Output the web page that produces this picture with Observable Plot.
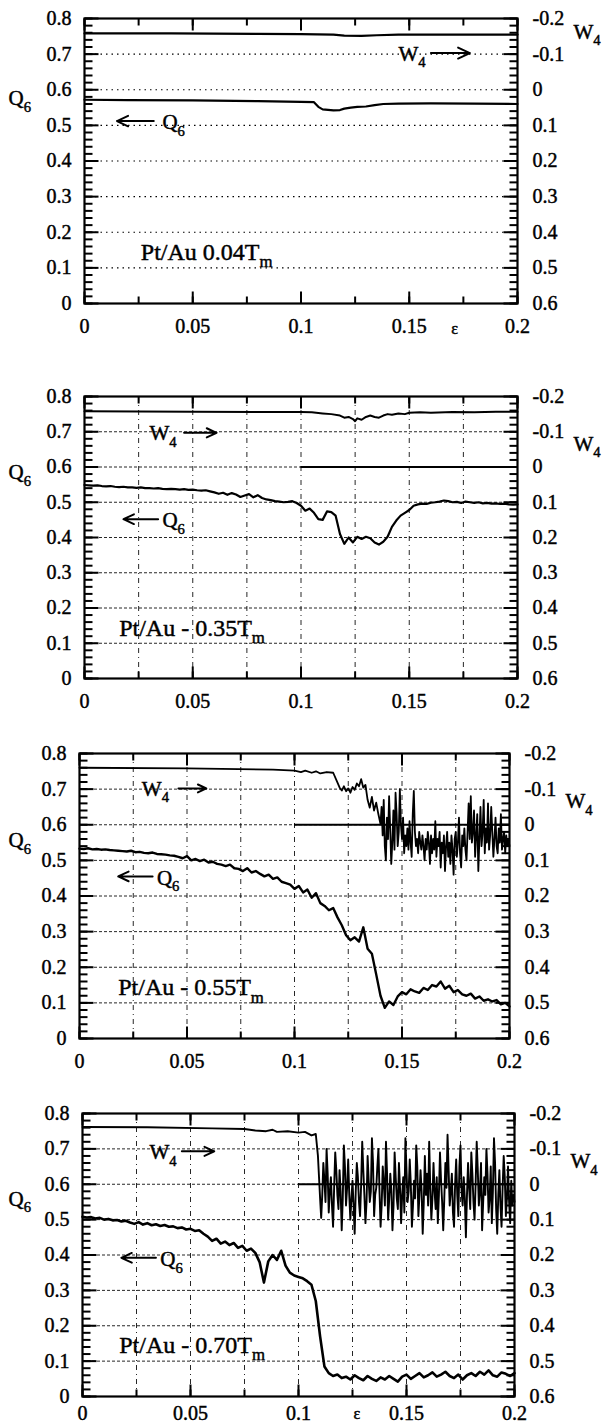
<!DOCTYPE html>
<html><head><meta charset="utf-8">
<script src="https://cdn.jsdelivr.net/npm/d3@7"></script>
<script src="https://cdn.jsdelivr.net/npm/@observablehq/plot@0.6"></script>
<style>
body{margin:0;background:#fff}
#root{position:relative;width:607px;height:1426px;overflow:hidden;background:#fff}
#root svg{position:absolute;left:0}
#root svg text{font-family:"Liberation Serif","DejaVu Serif",serif}
</style></head><body><div id="root"></div>
<script>
// ---------- tick labels ----------
const xTickVals = [0, 0.05, 0.1, 0.15, 0.2];
const xTickLabels = ["0", "0.05", "0.1", "0.15", "0.2"];
const q6TickVals = [0, 0.1, 0.2, 0.3, 0.4, 0.5, 0.6, 0.7, 0.8];
const q6TickLabels = ["0", "0.1", "0.2", "0.3", "0.4", "0.5", "0.6", "0.7", "0.8"];
const w4TickLabels = ["0.6", "0.5", "0.4", "0.3", "0.2", "0.1", "0", "-0.1", "-0.2"]; // same positions as q6TickVals
const xGridVals = [0.025, 0.05, 0.075, 0.1, 0.125, 0.15, 0.175];
const qGridVals = [0.1, 0.2, 0.3, 0.4, 0.5, 0.6, 0.7];
const panelLabels = ["Pt/Au 0.04T_m", "Pt/Au - 0.35T_m", "Pt/Au - 0.55T_m", "Pt/Au - 0.70T_m"];

// ---------- data (eps, value) ----------
// Panel 1 (0.04 Tm)
const q6_p1 = [[0,0.572],[0.02,0.571],[0.05,0.570],[0.08,0.568],[0.1,0.566],[0.106,0.565],[0.108,0.552],[0.11,0.545],[0.115,0.542],[0.118,0.543],[0.12,0.547],[0.123,0.550],[0.126,0.552],[0.13,0.553],[0.134,0.557],[0.138,0.560],[0.145,0.561],[0.16,0.562],[0.18,0.561],[0.2,0.560]];
const w4_p1 = [[0,-0.158],[0.04,-0.158],[0.08,-0.157],[0.1,-0.156],[0.115,-0.155],[0.12,-0.152],[0.128,-0.151],[0.135,-0.153],[0.145,-0.155],[0.17,-0.155],[0.2,-0.155]];

// Panel 2 (0.35 Tm) — Q6 sampled every 0.002 from 0
const q6_p2 = [0.549,0.548,0.547,0.548,0.546,0.545,0.546,0.544,0.543,0.544,0.542,
0.542,0.541,0.542,0.540,0.540,0.539,0.540,0.538,0.537,0.538,
0.537,0.536,0.537,0.535,0.536,0.534,0.533,0.534,0.531,0.528,
0.524,0.527,0.521,0.526,0.522,0.515,0.519,0.523,0.514,0.520,
0.512,0.508,0.506,0.503,0.502,0.500,0.501,0.503,0.498,0.490,
0.476,0.482,0.470,0.452,0.450,0.474,0.472,0.462,0.410,0.382,
0.400,0.386,0.402,0.396,0.402,0.398,0.386,0.380,0.388,0.402,
0.430,0.448,0.462,0.470,0.478,0.490,0.494,0.496,0.495,0.499,
0.500,0.502,0.505,0.503,0.500,0.501,0.498,0.502,0.500,0.498,
0.500,0.497,0.498,0.496,0.497,0.495,0.496,0.494,0.493,0.494];
const w4_p2 = [[0,-0.158],[0.05,-0.157],[0.09,-0.156],[0.1,-0.156],[0.105,-0.155],[0.11,-0.152],[0.114,-0.150],[0.118,-0.146],[0.12,-0.140],[0.122,-0.142],[0.124,-0.136],[0.125,-0.130],[0.126,-0.138],[0.128,-0.134],[0.13,-0.142],[0.132,-0.146],[0.134,-0.142],[0.136,-0.140],[0.138,-0.146],[0.14,-0.150],[0.142,-0.148],[0.145,-0.152],[0.148,-0.150],[0.15,-0.154],[0.155,-0.155],[0.16,-0.154],[0.17,-0.156],[0.18,-0.155],[0.19,-0.157],[0.2,-0.157]];

// Panel 3 (0.55 Tm)
const q6_p3 = [0.533,0.532,0.534,0.531,0.532,0.530,0.531,0.529,0.528,0.527,0.526,
0.525,0.527,0.523,0.524,0.521,0.520,0.522,0.518,0.517,0.516,
0.514,0.513,0.510,0.506,0.512,0.500,0.504,0.498,0.502,0.494,
0.496,0.490,0.488,0.484,0.488,0.478,0.476,0.470,0.478,0.466,
0.470,0.462,0.455,0.460,0.448,0.452,0.440,0.436,0.432,0.420,
0.428,0.410,0.418,0.395,0.408,0.380,0.372,0.360,0.366,0.340,
0.318,0.290,0.276,0.284,0.272,0.312,0.252,0.238,0.180,0.120,
0.086,0.104,0.094,0.118,0.130,0.124,0.138,0.132,0.128,0.142,
0.136,0.150,0.146,0.160,0.140,0.148,0.130,0.136,0.124,0.120,
0.126,0.112,0.118,0.106,0.110,0.104,0.108,0.096,0.100,0.090];
const w4_p3_smooth = [[0,-0.160],[0.05,-0.158],[0.09,-0.155],[0.1,-0.152],[0.103,-0.148],[0.105,-0.152],[0.108,-0.146],[0.11,-0.150],[0.112,-0.144],[0.115,-0.148],[0.118,-0.146]];
// W4 sampled every 0.001 from 0.120 to 0.139
const w4_p3_step = [-0.118,-0.104,-0.096,-0.108,-0.094,-0.102,-0.090,-0.106,-0.098,-0.116,
-0.108,-0.128,-0.104,-0.112,-0.070,-0.048,-0.078,-0.040,-0.062,-0.030];
// W4 sampled every 0.0005 from 0.140 to 0.200
const w4_p3_noisy = [-0.002,-0.050,0.030,-0.070,0.060,0.100,-0.020,0.040,-0.080,0.010,
0.110,0.050,-0.040,0.070,-0.090,-0.030,0.060,0.020,-0.100,0.000,
0.040,-0.020,0.080,0.030,0.060,0.010,0.070,-0.010,0.050,0.090,
-0.030,-0.095,0.020,0.060,0.040,0.080,0.020,0.050,0.070,0.030,
0.060,0.100,0.040,0.070,0.020,0.050,0.110,0.030,0.080,0.040,
0.070,-0.010,0.090,0.040,0.060,0.020,0.120,0.050,0.080,0.030,
0.130,0.060,0.020,0.090,0.050,0.110,0.030,0.070,0.140,0.040,
0.020,0.090,0.050,-0.020,0.080,0.120,0.030,0.060,0.010,0.070,
0.100,0.020,-0.060,0.040,-0.080,0.050,0.020,-0.040,0.090,0.030,
-0.030,0.130,0.040,-0.050,0.060,0.020,-0.070,0.080,0.010,0.050,
-0.060,0.070,0.030,-0.050,0.020,0.090,0.040,-0.020,0.060,0.080,
0.010,0.050,-0.030,0.070,0.040,0.020,0.080,0.030,0.060,0.040,
0.060];

// Panel 4 (0.70 Tm)
const q6_p4 = [0.508,0.506,0.507,0.503,0.505,0.500,0.502,0.498,0.499,0.495,0.497,
0.492,0.488,0.493,0.486,0.490,0.484,0.487,0.482,0.485,0.480,
0.481,0.476,0.478,0.472,0.474,0.468,0.470,0.460,0.452,0.440,
0.446,0.432,0.438,0.428,0.434,0.420,0.426,0.412,0.418,0.406,
0.380,0.322,0.382,0.400,0.386,0.412,0.370,0.350,0.342,0.338,
0.334,0.326,0.316,0.270,0.170,0.085,0.066,0.058,0.062,0.052,
0.056,0.048,0.060,0.052,0.046,0.058,0.050,0.044,0.054,0.048,
0.058,0.050,0.042,0.056,0.062,0.050,0.058,0.066,0.054,0.060,
0.068,0.056,0.062,0.070,0.058,0.052,0.062,0.048,0.060,0.066,
0.058,0.070,0.062,0.074,0.060,0.056,0.068,0.064,0.058,0.066];
const w4_p4_smooth = [[0,-0.162],[0.03,-0.161],[0.06,-0.158],[0.075,-0.156],[0.08,-0.152],[0.085,-0.150],[0.088,-0.154],[0.09,-0.148],[0.095,-0.150],[0.1,-0.146],[0.103,-0.148],[0.106,-0.138],[0.108,-0.142]];
// W4 sampled every 0.0005 from 0.109 to 0.200
const w4_p4_noisy = [-0.080,-0.020,0.040,0.095,0.030,-0.060,-0.010,0.050,-0.100,-0.030,
0.080,0.020,-0.020,0.060,0.120,0.010,-0.090,-0.040,0.030,0.070,
-0.040,0.020,0.130,0.040,-0.110,-0.050,0.060,0.010,-0.070,0.030,
0.100,0.040,-0.010,0.060,0.140,0.020,-0.060,-0.020,0.050,0.090,
0.000,-0.120,-0.040,0.030,0.110,0.050,-0.080,-0.010,0.050,0.020,
-0.130,-0.060,0.090,0.030,0.010,-0.050,-0.100,0.020,0.120,0.060,
-0.050,0.000,0.060,-0.120,-0.030,0.100,0.040,-0.030,0.020,0.130,
0.060,-0.090,-0.020,0.040,0.070,-0.060,0.010,0.110,0.030,-0.020,
0.080,-0.130,-0.040,0.050,0.020,-0.070,0.000,0.120,0.060,-0.010,
0.040,-0.110,-0.050,0.090,0.030,-0.040,0.020,0.140,0.050,-0.080,
0.030,-0.030,0.060,-0.120,0.010,0.100,0.040,-0.060,0.020,0.070,
-0.020,0.110,0.030,-0.090,-0.010,0.050,0.130,0.040,-0.060,0.010,
-0.140,-0.040,0.060,0.020,-0.030,0.080,0.120,0.000,-0.070,0.030,
0.090,-0.050,-0.110,0.020,0.060,-0.020,0.040,0.150,0.030,-0.060,
0.010,0.070,-0.090,-0.030,0.050,0.100,0.000,-0.120,-0.040,0.060,
0.020,-0.060,0.130,0.050,-0.020,0.030,-0.100,-0.030,0.080,0.040,
-0.050,0.110,0.020,-0.130,-0.060,0.070,0.140,0.030,-0.040,0.060,
0.120,0.010,-0.080,-0.020,0.090,0.040,-0.050,0.050,0.110,-0.010,
0.060,0.030,0.050];

// ---------- helpers ----------
const fromPairs = (a) => a.map(([x, v]) => ({x, v}));
const fromGrid = (vals, start, step) => vals.map((v, i) => ({x: +(start + i * step).toFixed(5), v}));
const wToQ = (w) => 0.6 - w;   // right axis W4 (-0.2..0.6) shares the frame with Q6 (0.8..0)

const panels = [
  {q6: fromPairs(q6_p1), w4: fromPairs(w4_p1), svgTop: 0, svgH: 360, L: 84, R: 517, T: 18, B: 303, xPad: 15,
   zero: false, grid: "sparse", q6Lab: 0.575, w4Lab: 0.762, eps: 0.171, epsDy: 30,
   wText: [0.145, 0.70], wArrow: [0.160, 0.178, 0.703], qArrow: [0.032, 0.015, 0.512], qText: [0.036, 0.508], lab: [0.026, 0.145], wLineW: 2.2, qLineW: 2.2},
  {q6: fromGrid(q6_p2, 0, 0.002), w4: fromPairs(w4_p2), svgTop: 360, svgH: 360, L: 84, R: 517, T: 396, B: 678, xPad: 15,
   zero: true, grid: "dense", q6Lab: 0.585, w4Lab: 0.665, eps: null,
   wText: [0.03, 0.695], wArrow: [0.046, 0.061, 0.697], qArrow: [0.034, 0.018, 0.452], qText: [0.036, 0.448], lab: [0.016, 0.143], wLineW: 2, qLineW: 2.2},
  {q6: fromGrid(q6_p3, 0, 0.002), w4: fromPairs(w4_p3_smooth).concat(fromGrid(w4_p3_step, 0.12, 0.001), fromGrid(w4_p3_noisy, 0.14, 0.0005)), svgTop: 720, svgH: 360, L: 79, R: 509, T: 753, B: 1038, xPad: 15,
   zero: true, grid: "dense", q6Lab: 0.556, w4Lab: 0.665, eps: null,
   wText: [0.029, 0.70], wArrow: [0.046, 0.059, 0.702], qArrow: [0.034, 0.018, 0.455], qText: [0.036, 0.451], lab: [0.018, 0.143], wLineW: 1.8, qLineW: 2.4},
  {q6: fromGrid(q6_p4, 0, 0.002), w4: fromPairs(w4_p4_smooth).concat(fromGrid(w4_p4_noisy, 0.109, 0.0005)), svgTop: 1080, svgH: 346, L: 82, R: 514, T: 1113, B: 1396, xPad: 9,
   zero: true, grid: "dense", q6Lab: 0.558, w4Lab: 0.665, eps: 0.127, epsDy: 22,
   wText: [0.031, 0.69], wArrow: [0.046, 0.061, 0.693], qArrow: [0.034, 0.018, 0.392], qText: [0.036, 0.388], lab: [0.017, 0.145], wLineW: 1.9, qLineW: 2.6}
];

const root = document.getElementById("root");
const xMinor = d3.range(0, 0.2001, 0.025);
const qMinor = d3.range(0, 0.8001, 0.02);

panels.forEach((p, i) => {
  const pxX = (p.R - p.L) / 0.2, pxY = (p.B - p.T) / 0.8;
  const hx = (n) => n / pxX, hy = (n) => n / pxY; // pixel lengths in data units for inward ticks
  const gridStyle = p.grid === "sparse"
    ? {stroke: "#000", strokeWidth: 1.1, strokeDasharray: "1.5,4"}
    : {stroke: "#000", strokeWidth: 1, strokeDasharray: "3,2", strokeOpacity: 0.85};
  // inward tick segments as plain records (start/end in data units)
  const yTicks = [];
  qMinor.forEach((v) => { yTicks.push({a: 0, b: hx(8), v}); yTicks.push({a: 0.2 - hx(8), b: 0.2, v}); });
  q6TickVals.forEach((v) => { yTicks.push({a: 0, b: hx(14), v}); yTicks.push({a: 0.2 - hx(14), b: 0.2, v}); });
  const xTicks = [];
  xMinor.forEach((v) => { xTicks.push({a: 0, b: hy(7), v}); xTicks.push({a: 0.8 - hy(7), b: 0.8, v}); });
  xTickVals.forEach((v) => { xTicks.push({a: 0, b: hy(12), v}); xTicks.push({a: 0.8 - hy(12), b: 0.8, v}); });
  const marks = [
    // grid
    Plot.ruleY(qGridVals, gridStyle),
    p.grid === "dense" ? Plot.ruleX(xGridVals, {stroke: "#000", strokeWidth: 1, strokeDasharray: "5,4,1,4", strokeOpacity: 0.85}) : null,
    p.zero ? Plot.ruleY([wToQ(0)], {x1: 0.1, x2: 0.2, stroke: "#000", strokeWidth: 1.8}) : null,
    Plot.frame({stroke: "#000", strokeWidth: 2.2}),
    // inward ticks
    Plot.link(yTicks, {x1: "a", x2: "b", y1: "v", y2: "v", stroke: "#000", strokeWidth: 2, strokeOpacity: 1}),
    Plot.link(xTicks, {x1: "v", x2: "v", y1: "a", y2: "b", stroke: "#000", strokeWidth: 2, strokeOpacity: 1}),
    // traces
    Plot.line(p.w4, {x: "x", y: (d) => wToQ(d.v), stroke: "#000", strokeWidth: p.wLineW, strokeLinejoin: "round"}),
    Plot.line(p.q6, {x: "x", y: "v", stroke: "#000", strokeWidth: p.qLineW, strokeLinejoin: "round"}),
    // axes
    Plot.axisX(xTickVals, {anchor: "bottom", tickSize: 0, tickPadding: p.xPad, fontSize: 20, tickFormat: (d) => xTickLabels[xTickVals.indexOf(d)], label: null}),
    Plot.axisY(q6TickVals, {anchor: "left", tickSize: 0, tickPadding: 13, fontSize: 20, tickFormat: (d) => q6TickLabels[q6TickVals.indexOf(d)], label: null}),
    Plot.axisY(q6TickVals, {anchor: "right", tickSize: 0, tickPadding: 15, fontSize: 20, tickFormat: (d) => w4TickLabels[q6TickVals.indexOf(d)], label: null}),
    // axis titles
    Plot.text(["Q_6"], {frameAnchor: "left", y: [p.q6Lab], dx: -(p.L - 8), textAnchor: "start", fontSize: 21}),
    Plot.text(["W_4"], {frameAnchor: "right", y: [p.w4Lab], dx: 56, textAnchor: "start", fontSize: 21}),
    p.eps !== null ? Plot.text(["ε"], {frameAnchor: "bottom", x: [p.eps], dy: p.epsDy, fontSize: 16}) : null,
    // annotations
    Plot.text(["W_4"], {x: [p.wText[0]], y: [p.wText[1]], textAnchor: "start", fontSize: 21}),
    Plot.arrow([p.wArrow], {x1: (d) => d[0], x2: (d) => d[1], y1: (d) => d[2], y2: (d) => d[2], stroke: "#000", strokeWidth: 2, headLength: 11, headAngle: 50}),
    Plot.arrow([p.qArrow], {x1: (d) => d[0], x2: (d) => d[1], y1: (d) => d[2], y2: (d) => d[2], stroke: "#000", strokeWidth: 2, headLength: 11, headAngle: 50}),
    Plot.text(["Q_6"], {x: [p.qText[0]], y: [p.qText[1]], textAnchor: "start", fontSize: 21}),
    Plot.text([panelLabels[i]], {x: [p.lab[0]], y: [p.lab[1]], textAnchor: "start", fontSize: 24})
  ].filter(Boolean);

  const svg = Plot.plot({
    width: 607, height: p.svgH,
    marginLeft: p.L, marginRight: 607 - p.R, marginTop: p.T - p.svgTop, marginBottom: p.svgTop + p.svgH - p.B,
    x: {domain: [0, 0.2]}, y: {domain: [0, 0.8]},
    style: {fontFamily: "Liberation Serif, serif", fontSize: "20px", color: "#000", background: "transparent", overflow: "visible"},
    marks
  });
  svg.style.top = p.svgTop + "px";
  svg.setAttribute("font-family", "Liberation Serif, serif");
  d3.select(svg).selectAll("g[aria-label='y-axis tick label'], g[aria-label='x-axis tick label']").attr("font-size", 20);
  // subscripts: "A_b" -> A with subscript b
  d3.select(svg).selectAll("text").each(function () {
    const t = this.textContent;
    const m = t.match(/^(.*)_(.+)$/);
    if (!m) return;
    const sel = d3.select(this);
    sel.text(null);
    sel.append("tspan").text(m[1]);
    sel.append("tspan").attr("dy", "0.45em").attr("font-size", "0.7em").text(m[2]);
  });
  d3.select(svg).selectAll("text").attr("font-family", "Liberation Serif, serif")
    .attr("stroke", "#000").attr("stroke-width", 0.45).attr("fill", "#000");
  root.appendChild(svg);
});
</script>
</body></html>
